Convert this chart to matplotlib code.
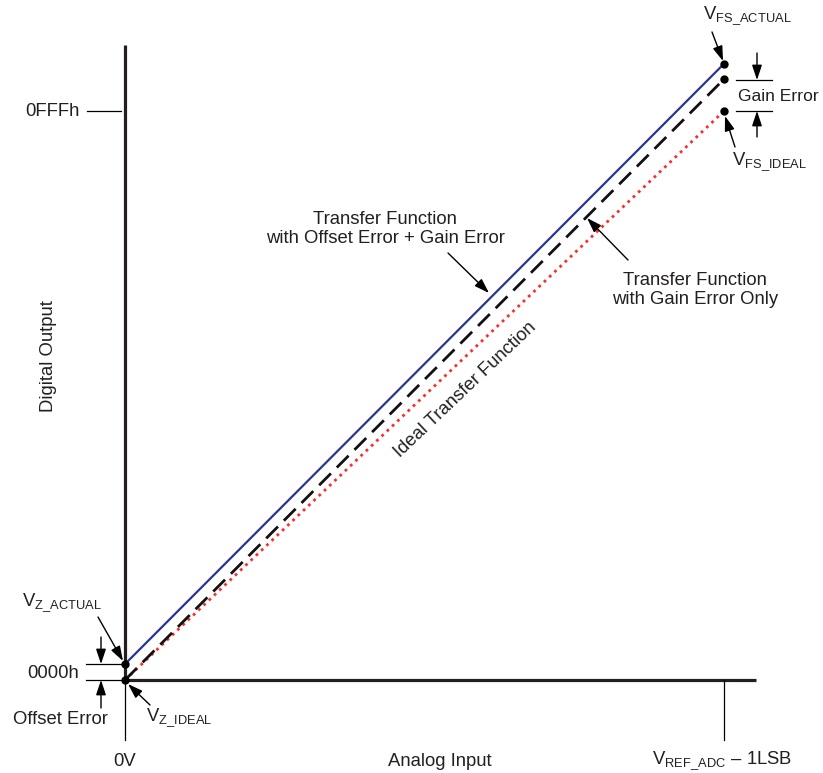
import matplotlib
matplotlib.use('Agg')
import matplotlib.pyplot as plt

plt.rcParams['font.family'] = ['Liberation Sans', 'DejaVu Sans']
plt.rcParams['mathtext.fontset'] = 'custom'
plt.rcParams['mathtext.rm'] = 'Liberation Sans'
plt.rcParams['mathtext.it'] = 'Liberation Sans'

# ---- data (normalized: x 0 = 0V, 1 = VREF_ADC - 1LSB; y 0 = 0000h, 1 = 0FFFh)
analog_in = [0.0, 1.0]
ideal_out = [0.0, 1.0]
gain_only_out = [0.0, 1.056]
offset_gain_out = [0.028, 1.083]
x_ticks = [0.0, 1.0]
x_tick_labels = ['0V', r'V$_{\mathregular{REF\_ADC}}$ – 1LSB']
y_ticks = [0.0, 1.0]
y_tick_labels = ['0000h', '0FFFh']

W, H = 823, 773
fig = plt.figure(figsize=(W / 100, H / 100), dpi=100)
ax = fig.add_axes([0, 0, 1, 1])
X0, X1 = 125, 724
Y0, Y1 = 680, 111


def px(x):
    return (x - X0) / (X1 - X0)


def py(y):
    return (Y0 - y) / (Y0 - Y1)


def P(x, y):
    return (px(x), py(y))


ax.set_xlim(px(0), px(W))
ax.set_ylim(py(H), py(0))
ax.axis('off')

TC = '#231f20'
FS = 13.3

# axes
ax.plot([0, 0], [y_ticks[0], py(45)], color='#231f20', lw=2.3, solid_capstyle='butt', zorder=2)
ax.plot([0, px(756)], [y_ticks[0], y_ticks[0]], color='#231f20', lw=2.3, solid_capstyle='butt', zorder=2)
# ticks
ax.plot([x_ticks[0], x_ticks[0]], [y_ticks[0], py(740)], color='black', lw=0.9, zorder=2)
ax.plot([x_ticks[1], x_ticks[1]], [y_ticks[0], py(740)], color='black', lw=0.9, zorder=2)
ax.plot([px(87), px(121)], [y_ticks[1], y_ticks[1]], color='black', lw=0.9)

# transfer functions
ax.plot(analog_in, ideal_out, color='#ff2a2a', lw=2.0, linestyle=(0, (1, 1.6)), zorder=3)
ax.plot(analog_in, gain_only_out, color='#111111', lw=2.0, linestyle=(0, (6, 3)), zorder=4)
ax.plot(analog_in, offset_gain_out, color='#2a3590', lw=1.6, zorder=5)

# endpoint dots
ax.plot([analog_in[0], analog_in[0], analog_in[1], analog_in[1], analog_in[1]],
        [ideal_out[0], offset_gain_out[0], ideal_out[1], gain_only_out[1], offset_gain_out[1]],
        'o', color='black', ms=5, zorder=6)

# tick labels
ax.text(px(80), y_ticks[1], y_tick_labels[1], ha='right', va='center', fontsize=FS, color=TC)
ax.text(px(79), py(673), y_tick_labels[0], ha='right', va='center', fontsize=FS, color=TC)
ax.text(x_ticks[0], py(761), x_tick_labels[0], ha='center', va='center', fontsize=FS, color=TC)
ax.text(px(652), py(761), x_tick_labels[1], ha='left', va='center', fontsize=FS, color=TC)

# axis titles
ax.text(px(440), py(761), 'Analog Input', ha='center', va='center', fontsize=FS, color=TC)
ax.text(px(49), py(356), 'Digital Output', ha='center', va='center', rotation=90, fontsize=FS, color=TC)

# offset error markers
for yy in (664, 680):
    ax.plot([px(86), px(122)], [py(yy), py(yy)], color='black', lw=0.9)
arrow_kw = dict(arrowstyle='-|>,head_length=0.9,head_width=0.3', color='black', lw=1.0,
                shrinkA=0, shrinkB=0)
ax.annotate('', xy=P(101, 664), xytext=P(101, 637), arrowprops=arrow_kw)
ax.annotate('', xy=P(101, 680), xytext=P(101, 708), arrowprops=arrow_kw)
ax.text(px(13), py(720), 'Offset Error', ha='left', va='center', fontsize=FS, color=TC)

# gain error markers
for yy in (80, 111):
    ax.plot([px(736), px(772)], [py(yy), py(yy)], color='black', lw=0.9)
ax.annotate('', xy=P(757, 80), xytext=P(757, 53), arrowprops=arrow_kw)
ax.annotate('', xy=P(757, 111), xytext=P(757, 137), arrowprops=arrow_kw)
ax.text(px(738), py(96), 'Gain Error', ha='left', va='center', fontsize=12.6, color=TC)

# point labels
ax.text(px(22), py(603), r'V$_{\mathregular{Z\_ACTUAL}}$', ha='left', va='center', fontsize=FS, color=TC)
ax.annotate('', xy=P(123, 661), xytext=P(98, 617), arrowprops=arrow_kw)
ax.text(px(146), py(718), r'V$_{\mathregular{Z\_IDEAL}}$', ha='left', va='center', fontsize=FS, color=TC)
ax.annotate('', xy=P(128, 684), xytext=P(150, 705), arrowprops=arrow_kw)
ax.text(px(703), py(16), r'V$_{\mathregular{FS\_ACTUAL}}$', ha='left', va='center', fontsize=FS, color=TC)
ax.annotate('', xy=P(723, 61), xytext=P(712, 32), arrowprops=arrow_kw)
ax.text(px(732), py(162), r'V$_{\mathregular{FS\_IDEAL}}$', ha='left', va='center', fontsize=FS, color=TC)
ax.annotate('', xy=P(725, 116), xytext=P(735, 147), arrowprops=arrow_kw)

# curve labels
ax.text(px(385), py(229), 'Transfer Function\nwith Offset Error + Gain Error', ha='center', va='center',
        fontsize=FS, color=TC, linespacing=1.2)
ax.annotate('', xy=P(489, 293), xytext=P(448, 253), arrowprops=arrow_kw)
ax.text(px(695), py(290), 'Transfer Function\nwith Gain Error Only', ha='center', va='center',
        fontsize=FS, color=TC, linespacing=1.2)
ax.annotate('', xy=P(587, 218), xytext=P(628, 260), arrowprops=arrow_kw)
ax.text(px(465), py(390), 'Ideal Transfer Function', ha='center', va='center', rotation=43.5,
        rotation_mode='anchor', fontsize=FS, color=TC)

fig.savefig('out.png', dpi=100)
